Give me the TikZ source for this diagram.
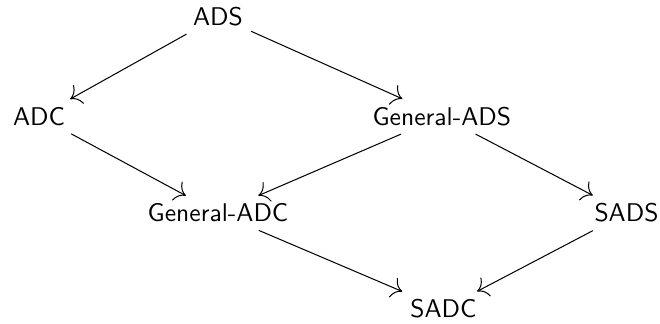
\documentclass[tikz,border=0pt]{standalone}
\usepackage{tikz}
\usetikzlibrary{arrows.meta,positioning}

\begin{document}
\begin{tikzpicture}[font=\sffamily, class/.style={inner sep=3pt}, arr/.style={-{To[scale=1.6]}, thin}]
      \useasboundingbox (0,0) rectangle (9.066,-4.437);

      \node[class] (ads) at (2.995,-0.227) {ADS};
      \node[class] (adc) at (0.536,-1.600) {ADC};
      \node[class] (gads) at (6.070,-1.600) {General-ADS};
      \node[class] (gadc) at (2.995,-2.926) {General-ADC};
      \node[class] (sads) at (8.606,-2.926) {SADS};
      \node[class] (sadc) at (6.092,-4.245) {SADC};

      \draw[arr] (ads) -- (adc);
      \draw[arr] (ads) -- (gads);
      \draw[arr] (adc) -- (gadc);
      \draw[arr] (gads) -- (gadc);
      \draw[arr] (gads) -- (sads);
      \draw[arr] (gadc) -- (sadc);
      \draw[arr] (sads) -- (sadc);
    \end{tikzpicture}
\end{document}
